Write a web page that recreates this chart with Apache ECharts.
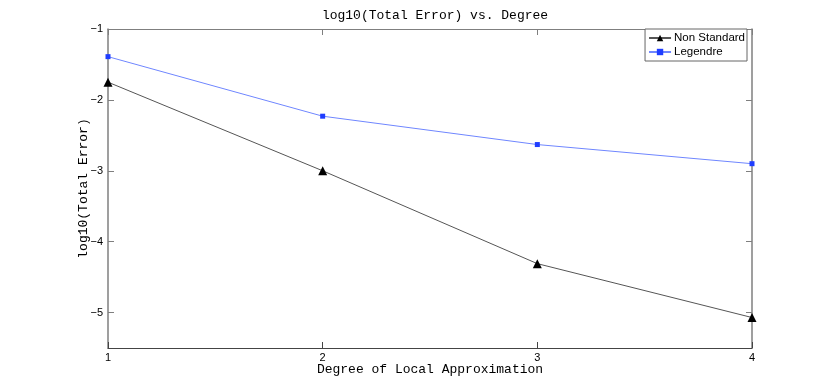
<!DOCTYPE html>
<html>
<head>
<meta charset="utf-8">
<script src="https://cdn.jsdelivr.net/npm/echarts@6/dist/echarts.min.js"></script>
<style>
  html, body { margin: 0; padding: 0; background: #fff; }
  #main { width: 830px; height: 392px; }
</style>
</head>
<body>
<div id="main"></div>
<script>
// degree of local approximation
var degrees = [1, 2, 3, 4];
// log10(total error)
var nonStandard = [-1.75, -3.0, -4.31, -5.07];
var legendre = [-1.39, -2.23, -2.63, -2.90];
var yTicks = [-5, -4, -3, -2, -1];

var chart = echarts.init(document.getElementById('main'));

function pairs(ys) {
    return degrees.map(function (d, i) { return [d, ys[i]]; });
}
function minus(v) {
    return String(v).replace('-', '\u2212');
}

var mono = '"Liberation Mono", "DejaVu Sans Mono", monospace';
var sans = '"Liberation Sans", Arial, sans-serif';
var axisCol = '#7f7f7f';

var option = {
    animation: false,
    title: {
        text: 'log10(Total Error) vs. Degree',
        left: 430, top: 4, textAlign: 'center',
        textStyle: { fontFamily: mono, fontSize: 13, fontWeight: 'normal', color: '#000' }
    },
    legend: {
        right: 83, top: 29,
        orient: 'vertical',
        itemGap: 2, itemWidth: 22, itemHeight: 8,
        padding: [3, 2, 3, 3],
        borderColor: '#666', borderWidth: 1,
        backgroundColor: '#fff',
        textStyle: { fontFamily: sans, fontSize: 11.5, color: '#000', padding: [0, 0, 0, -2] },
        data: ['Non Standard', 'Legendre']
    },
    grid: { left: 108, right: 78, top: 29, bottom: 44 },
    xAxis: [{
        type: 'value', min: 1, max: 4, interval: 1,
        name: 'Degree of Local Approximation',
        nameLocation: 'middle', nameGap: 15, nameMoveOverlap: false,
        nameTextStyle: { fontFamily: mono, fontSize: 13, color: '#000' },
        axisLine: { lineStyle: { color: '#444' } },
        axisTick: { inside: true, length: 6, lineStyle: { color: '#444' } },
        axisLabel: { fontFamily: sans, fontSize: 11, color: '#000', margin: 4 },
        splitLine: { show: false }
    }, {
        type: 'value', min: 1, max: 4, interval: 1, position: 'top',
        axisLine: { lineStyle: { color: axisCol } },
        axisTick: { inside: true, length: 6, lineStyle: { color: axisCol } },
        axisLabel: { show: false },
        splitLine: { show: false }
    }],
    yAxis: [{
        type: 'value', min: -5.5, max: -1,
        name: 'log10(Total Error)',
        nameLocation: 'middle', nameGap: 18, nameRotate: 90, nameMoveOverlap: false,
        nameTextStyle: { fontFamily: mono, fontSize: 13, color: '#000' },
        axisLine: { lineStyle: { color: axisCol, width: 1.5 } },
        axisTick: { inside: true, length: 6, customValues: yTicks, lineStyle: { color: axisCol } },
        axisLabel: { customValues: yTicks, fontFamily: sans, fontSize: 11, color: '#000', margin: 5, formatter: minus },
        splitLine: { show: false }
    }, {
        type: 'value', min: -5.5, max: -1, position: 'right',
        axisLine: { show: true, lineStyle: { color: axisCol, width: 1.5 } },
        axisTick: { inside: true, length: 6, customValues: yTicks, lineStyle: { color: axisCol } },
        axisLabel: { show: false },
        splitLine: { show: false }
    }],
    series: [{
        name: 'Non Standard',
        type: 'line',
        data: pairs(nonStandard),
        symbol: 'triangle', symbolSize: 9,
        lineStyle: { color: '#555', width: 1 },
        itemStyle: { color: '#000' },
        z: 3
    }, {
        name: 'Legendre',
        type: 'line',
        data: pairs(legendre),
        symbol: 'rect', symbolSize: 5,
        lineStyle: { color: '#6f86ff', width: 1 },
        itemStyle: { color: '#1f3dff' },
        z: 2
    }]
};

chart.setOption(option);
</script>
</body>
</html>
